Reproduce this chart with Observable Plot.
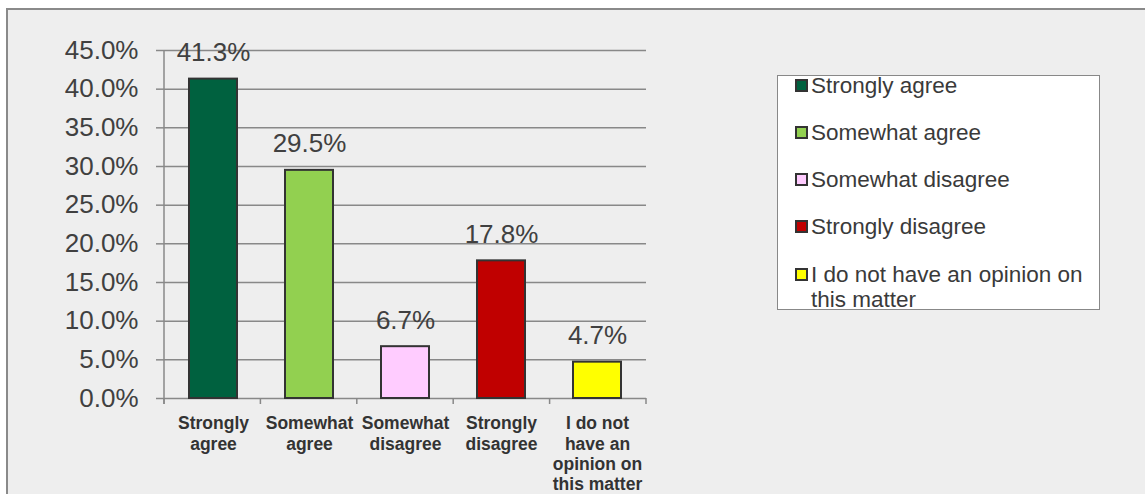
<!DOCTYPE html>
<html><head><meta charset="utf-8">
<script src="https://cdn.jsdelivr.net/npm/d3@7"></script>
<script src="https://cdn.jsdelivr.net/npm/@observablehq/plot@0.6"></script>
<style>
html,body{margin:0;padding:0;background:#fff;width:1145px;height:494px;overflow:hidden;font-family:"Liberation Sans",Arial,sans-serif;}
#frame{position:absolute;left:6px;top:8px;width:1150px;height:500px;border-left:2px solid #8a8a8a;border-top:2px solid #8a8a8a;background:#eeeeee;}
#chart{position:absolute;left:0;top:0;}
#legend{position:absolute;left:769px;top:65px;width:321px;height:233px;background:#fff;border:1.5px solid #888;}
.item{position:absolute;left:17px;font-size:22.5px;line-height:25px;color:#3a3a3a;white-space:nowrap;}
.sw{position:absolute;left:0;width:9px;height:9px;border:2px solid #333;}
.lbl{position:absolute;left:16px;top:0;}
#chart g[aria-label="x-axis tick label"] text{font-weight:bold;}
</style>
</head><body>
<div id="frame"><div id="chart"></div><div id="legend"></div></div>
<script>
const categories = ["Strongly agree","Somewhat agree","Somewhat disagree","Strongly disagree","I do not have an opinion on this matter"];
const values = [41.3, 29.5, 6.7, 17.8, 4.7];
const colors = ["#00613f","#92d050","#ffccff","#c00000","#ffff00"];
const xTickLabels = ["Strongly\nagree","Somewhat\nagree","Somewhat\ndisagree","Strongly\ndisagree","I do not\nhave an\nopinion on\nthis matter"];
const legendLabels = ["Strongly agree","Somewhat agree","Somewhat disagree","Strongly disagree","I do not have an opinion on\nthis matter"];
const yTicks = [0,5,10,15,20,25,30,35,40,45];

const data = categories.map((c,i)=>({category:c, value:values[i]}));

function axisFrame(index, scales, channels, dimensions) {
  const {y} = scales;
  const n = categories.length;
  const {width, marginLeft, marginRight} = dimensions;
  const step = (width - marginLeft - marginRight) / n;
  const y0 = y(0), yTop = y(d3.max(yTicks));
  const g = d3.create("svg:g").attr("stroke","#888").attr("stroke-width",1.5);
  g.append("line").attr("x1",marginLeft).attr("x2",marginLeft).attr("y1",yTop).attr("y2",y0+6);
  d3.range(n+1).forEach(i=>{
    const xx = marginLeft + i*step;
    g.append("line").attr("x1",xx).attr("x2",xx).attr("y1",y0).attr("y2",y0+6);
  });
  return g.node();
}

const chart = Plot.plot({
  width: 1137, height: 484,
  marginLeft: 156, marginRight: 499, marginTop: 40, marginBottom: 96,
  style: {background:"transparent", fontFamily:'"Liberation Sans", Arial, sans-serif', color:"#404040", overflow:"visible"},
  x: {domain: categories, paddingInner: 0.5, paddingOuter: 0.25, label: null},
  y: {domain: [0,45], label: null},
  color: {domain: categories, range: colors},
  marks: [
    Plot.ruleY(yTicks, {stroke:"#888", strokeWidth:1.5}),
    Plot.axisY({ticks: yTicks, tickSize: 8, tickPadding: 18, stroke:"#888", strokeWidth:1.5, fill:"#404040",
      tickFormat: d => d.toFixed(1) + "%", fontSize: 26, label: null}),
    Plot.axisX({tickSize: 0, tickPadding: 16, fill:"#333", fontSize: 17.5, fontWeight:"bold", lineHeight: 1.17,
      tickFormat: (d,i) => xTickLabels[categories.indexOf(d)], label: null}),
    axisFrame,
    Plot.barY(data, {x:"category", y:"value", fill:"category", stroke:"#333", strokeWidth:2}),
    Plot.text(data, {x:"category", y:"value", text: d => d.value.toFixed(1) + "%", dy:-18, lineAnchor:"bottom",
      fontSize: 26, fill:"#404040"})
  ]
});
document.getElementById("chart").appendChild(chart);

const legend = document.getElementById("legend");
const centers = [9.5, 56.5, 103.5, 150.5, 198.5];
legendLabels.forEach((lab,i)=>{
  const it = document.createElement("div");
  it.className = "item";
  it.style.top = (centers[i] - 12.5) + "px";
  const sw = document.createElement("div");
  sw.className = "sw";
  sw.style.top = "6px";
  sw.style.background = colors[i];
  const t = document.createElement("div");
  t.className = "lbl";
  t.innerHTML = lab.split("\n").join("<br>");
  it.appendChild(sw); it.appendChild(t);
  legend.appendChild(it);
});
</script>
</body></html>
